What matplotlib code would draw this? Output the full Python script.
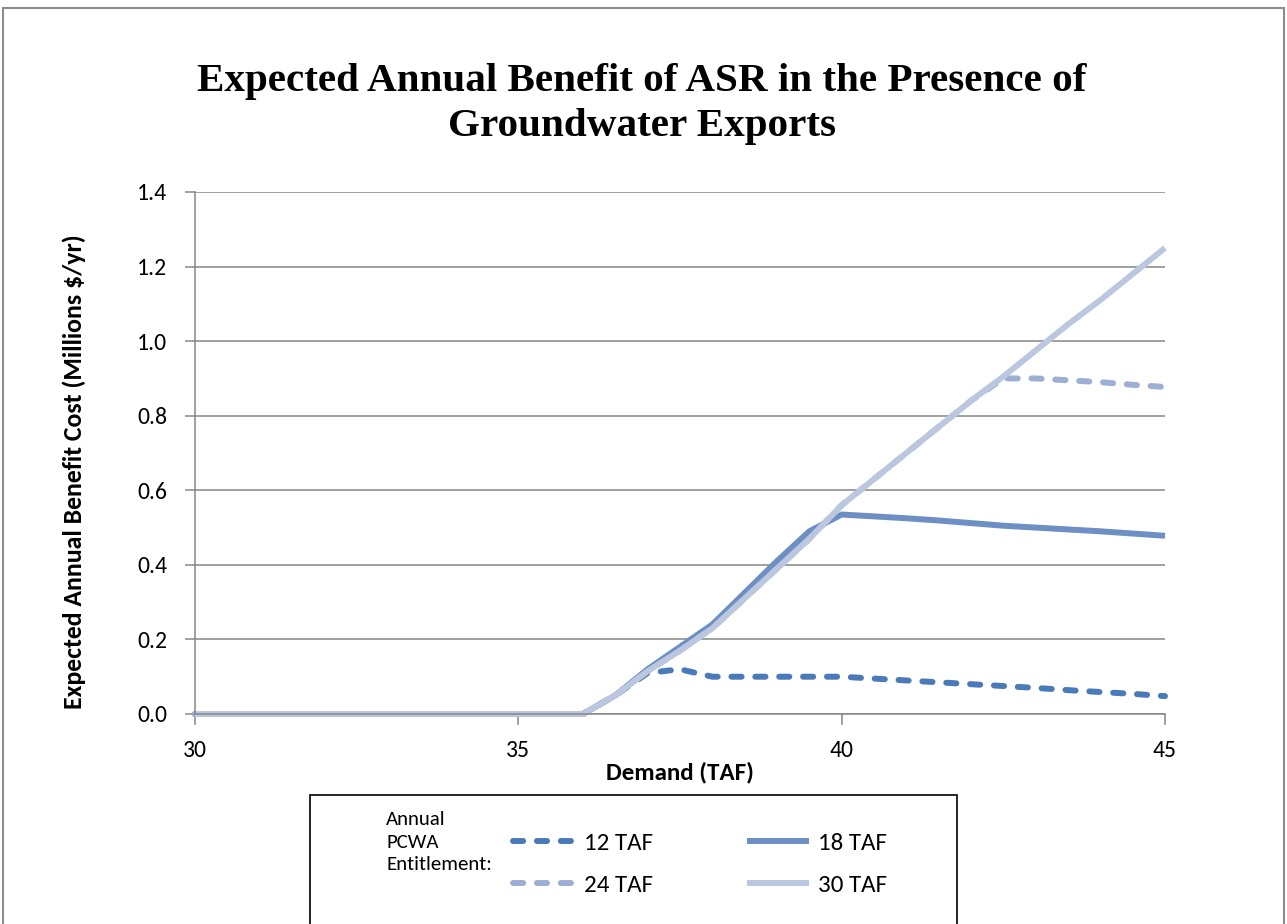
import matplotlib
matplotlib.use("Agg")
import matplotlib.pyplot as plt
from matplotlib.patches import Rectangle

plt.rcParams['font.family'] = ['Carlito', 'Lato', 'DejaVu Sans']

demand = [30, 30.5, 31, 31.5, 32, 32.5, 33, 33.5, 34, 34.5, 35, 35.5, 36,
          36.5, 37, 37.5, 38, 38.5, 39, 39.5, 40,
          40.5, 41, 41.5, 42, 42.5, 43, 43.5, 44, 44.5, 45]

taf12 = [0, 0, 0, 0, 0, 0, 0, 0, 0, 0, 0, 0, 0,
         0.05, 0.11, 0.12, 0.10, 0.10, 0.10, 0.10, 0.10,
         0.095, 0.09, 0.085, 0.08, 0.075, 0.07, 0.064, 0.059, 0.054, 0.048]
taf18 = [0, 0, 0, 0, 0, 0, 0, 0, 0, 0, 0, 0, 0,
         0.05, 0.12, 0.18, 0.24, 0.325, 0.41, 0.49, 0.535,
         0.53, 0.525, 0.519, 0.512, 0.505, 0.50, 0.495, 0.49, 0.484, 0.478]
taf24 = [0, 0, 0, 0, 0, 0, 0, 0, 0, 0, 0, 0, 0,
         0.05, 0.115, 0.17, 0.23, 0.31, 0.39, 0.47, 0.56,
         0.63, 0.70, 0.77, 0.84, 0.90, 0.90, 0.895, 0.89, 0.883, 0.877]
taf30 = [0, 0, 0, 0, 0, 0, 0, 0, 0, 0, 0, 0, 0,
         0.05, 0.115, 0.17, 0.23, 0.31, 0.39, 0.47, 0.56,
         0.63, 0.70, 0.77, 0.84, 0.905, 0.975, 1.045, 1.11, 1.18, 1.25]

series_labels = ['12 TAF', '18 TAF', '24 TAF', '30 TAF']
x_ticks = [30, 35, 40, 45]
y_ticks = [0.0, 0.2, 0.4, 0.6, 0.8, 1.0, 1.2, 1.4]

W, H = 1287, 924
fig = plt.figure(figsize=(W / 100, H / 100), dpi=100)
fig.patch.set_facecolor('white')

# outer chart border
fig.patches.append(Rectangle((3 / W, -0.05), 1281 / W, (H - 8) / H + 0.05,
                             transform=fig.transFigure, fill=False,
                             edgecolor='#8c8c8c', linewidth=1.5))

ax = fig.add_axes([195 / W, (H - 714) / H, 970 / W, 522 / H])

grid_col = '#868686'
colors = ['#4a7ab8', '#6d8fc4', '#9dafd3', '#bac7df']
lw = 4.3
dash = (1.7, 2.3)

l12, = ax.plot(demand, taf12, color=colors[0], lw=lw, dashes=dash,
               dash_capstyle='round', label=series_labels[0])
l18, = ax.plot(demand, taf18, color=colors[1], lw=lw,
               solid_capstyle='butt', solid_joinstyle='round', label=series_labels[1])
l24, = ax.plot(demand, taf24, color=colors[2], lw=lw, dashes=dash,
               dash_capstyle='round', label=series_labels[2])
l30, = ax.plot(demand, taf30, color=colors[3], lw=lw,
               solid_capstyle='butt', solid_joinstyle='round', label=series_labels[3])
for ln in (l12, l18, l24, l30):
    ln.set_clip_on(False)

ax.set_xlim(30, 45)
ax.set_ylim(0, 1.4)
ax.set_xticks(x_ticks)
ax.set_xticklabels([str(v) for v in x_ticks])
ax.set_yticks(y_ticks)
ax.set_yticklabels([f'{v:.1f}' for v in y_ticks])
ax.yaxis.grid(True, color=grid_col, lw=1.1)
ax.set_axisbelow(True)
for s in ('top', 'right'):
    ax.spines[s].set_visible(False)
for s in ('left', 'bottom'):
    ax.spines[s].set_color(grid_col)
    ax.spines[s].set_linewidth(1.1)
ax.tick_params(axis='y', direction='out', length=7, width=1.1, color=grid_col,
               labelsize=17, pad=13)
ax.tick_params(axis='x', direction='out', length=8, width=1.1, color=grid_col,
               labelsize=17, pad=11)

ax.set_xlabel('Demand (TAF)', fontsize=18, fontweight='bold', labelpad=0)
ax.set_ylabel('Expected Annual Benefit Cost (Millions $/yr)', fontsize=18.5,
              fontweight='bold', labelpad=37)
ax.yaxis.label.set_y(0.465)

fig.text(642 / W, 1 - 104 / H,
         'Expected Annual Benefit of ASR in the Presence of\nGroundwater Exports',
         ha='center', va='center', fontsize=29.6, fontweight='bold',
         family=['Liberation Serif', 'DejaVu Serif'], linespacing=1.32)

# legend box
fig.patches.append(Rectangle((310 / W, -0.05), 647 / W, (H - 795) / H + 0.05,
                             transform=fig.transFigure, fill=False,
                             edgecolor='black', linewidth=1.2))
fig.text(386 / W, 1 - 842 / H, 'Annual\nPCWA\nEntitlement:', ha='left', va='center',
         fontsize=15, linespacing=1.42)
fig.legend(handles=[l12, l24, l18, l30], labels=[series_labels[0], series_labels[2],
                                               series_labels[1], series_labels[3]],
           ncol=2, frameon=False, loc='center left',
           bbox_to_anchor=(490 / W, 1 - 864 / H), fontsize=18,
           handlelength=2.5, handletextpad=0.35, columnspacing=3.75,
           labelspacing=0.8)

fig.savefig('out.png', dpi=100)
